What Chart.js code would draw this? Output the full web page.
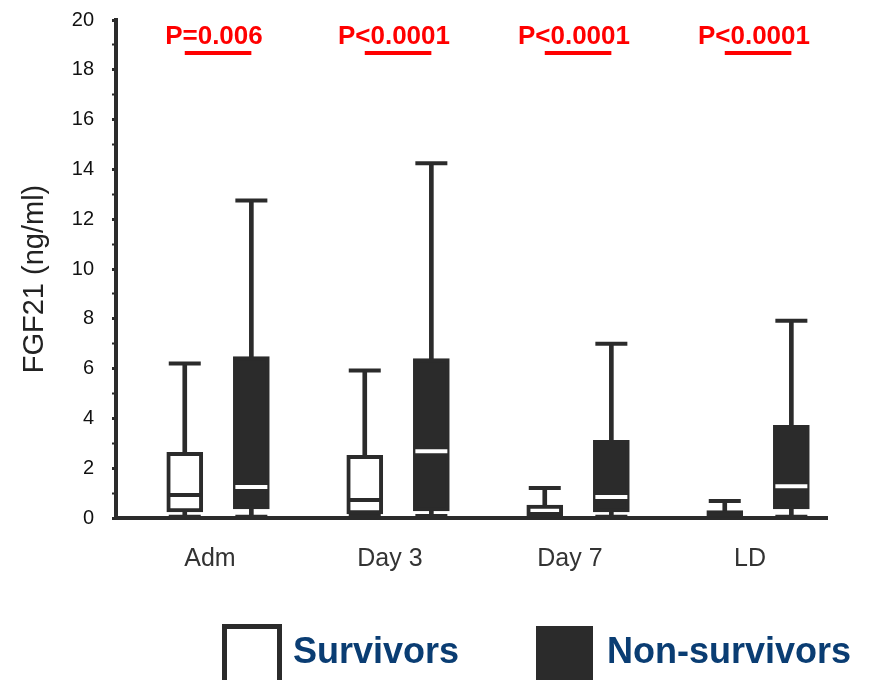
<!DOCTYPE html>
<html>
<head>
<meta charset="utf-8">
<script src="https://cdn.jsdelivr.net/npm/chart.js@4/dist/chart.umd.min.js"></script>
<style>
  body { margin: 0; background: #fff; }
</style>
</head>
<body>
<canvas id="grafica" width="877" height="680"></canvas>
<script>
// data (FGF21, ng/ml)
const categories = ['Adm', 'Day 3', 'Day 7', 'LD'];
const groups = ['Survivors', 'Non-survivors'];
const pValues = ['P=0.006', 'P<0.0001', 'P<0.0001', 'P<0.0001'];

const survMin = [0.05, 0.08, 0.05, 0.05];
const survQ1 = [0.24, 0.16, 0.0, 0.0];
const survMedian = [0.92, 0.72, 0.16, 0.14];
const survQ3 = [2.64, 2.52, 0.52, 0.3];
const survMax = [6.2, 5.92, 1.2, 0.68];

const nonMin = [0.05, 0.08, 0.05, 0.05];
const nonQ1 = [0.36, 0.28, 0.24, 0.36];
const nonMedian = [1.24, 2.68, 0.84, 1.28];
const nonQ3 = [6.48, 6.4, 3.12, 3.72];
const nonMax = [12.75, 14.25, 7.0, 7.92];

const dark = '#2b2b2b';
const fontFam = '"Liberation Sans", Arial, sans-serif';
const SURV_OFF = -0.14;
const NON_OFF = 0.23;

function pts(vals, off) {
    return vals.map(function(v, i){ return {x: i + off, y: v}; });
}
function ranges(lo, hi, off) {
    return lo.map(function(v, i){ return {x: i + off, y: [v, hi[i]]}; });
}

const lineMark = {
    type: 'scatter',
    showLine: false,
    pointStyle: 'line',
    pointRadius: 16,
    pointHoverRadius: 16,
    pointBorderWidth: 4,
    pointHoverBorderWidth: 4
};

const extras = {
    id: 'extras',
    afterDraw(chart) {
        const ctx = chart.ctx;
        const x = chart.scales.x;
        ctx.save();
        // y title
        ctx.save();
        ctx.translate(35, 279);
        ctx.rotate(-Math.PI / 2);
        ctx.font = '29px ' + fontFam;
        ctx.fillStyle = '#222';
        ctx.textAlign = 'center';
        ctx.textBaseline = 'middle';
        ctx.fillText('FGF21 (ng/ml)', 0, 0);
        ctx.restore();

        // p values
        ctx.fillStyle = '#ff0000';
        ctx.strokeStyle = '#ff0000';
        ctx.font = 'bold 26px ' + fontFam;
        ctx.textAlign = 'center';
        ctx.textBaseline = 'middle';
        ctx.lineWidth = 4;
        pValues.forEach(function(p, i){
            ctx.fillText(p, x.getPixelForValue(i) + 4, 37);
            ctx.beginPath();
            ctx.moveTo(x.getPixelForValue(i + SURV_OFF), 53);
            ctx.lineTo(x.getPixelForValue(i + NON_OFF), 53);
            ctx.stroke();
        });

        // legend
        ctx.lineWidth = 5;
        ctx.strokeStyle = dark;
        ctx.fillStyle = '#fff';
        ctx.fillRect(224, 626, 55, 58);
        ctx.strokeRect(224.5, 626.5, 55, 58);
        ctx.fillStyle = dark;
        ctx.fillRect(536, 626, 57, 60);
        ctx.font = 'bold 36px ' + fontFam;
        ctx.fillStyle = '#0a3d73';
        ctx.textAlign = 'left';
        ctx.textBaseline = 'alphabetic';
        ctx.fillText(groups[0], 293, 663);
        ctx.fillText(groups[1], 607, 663);
        ctx.restore();
    }
};

var chart = new Chart(document.getElementById('grafica').getContext('2d'), {
    type: 'bar',
    data: {
        datasets: [
            Object.assign({}, lineMark, {
                label: 'median-s', order: 1,
                data: pts(survMedian, SURV_OFF),
                pointBorderColor: dark, pointBackgroundColor: dark
            }),
            Object.assign({}, lineMark, {
                label: 'median-n', order: 1,
                data: pts(nonMedian, NON_OFF),
                pointBorderColor: '#fff', pointBackgroundColor: '#fff'
            }),
            {
                label: groups[0], order: 3, grouped: false,
                data: ranges(survQ1, survQ3, SURV_OFF),
                barThickness: 36,
                backgroundColor: '#fff',
                borderColor: dark,
                borderWidth: 4,
                borderSkipped: false
            },
            {
                label: groups[1], order: 3, grouped: false,
                data: ranges(nonQ1, nonQ3, NON_OFF),
                barThickness: 36,
                backgroundColor: dark,
                borderColor: dark,
                borderWidth: 4,
                borderSkipped: false
            },
            Object.assign({}, lineMark, {
                label: 'caps', order: 4,
                data: pts(survMax, SURV_OFF).concat(pts(survMin, SURV_OFF), pts(nonMax, NON_OFF), pts(nonMin, NON_OFF)),
                pointBorderColor: dark, pointBackgroundColor: dark
            }),
            {
                label: 'whisker-s', order: 5, grouped: false,
                data: ranges(survMin, survMax, SURV_OFF),
                barThickness: 4,
                backgroundColor: dark
            },
            {
                label: 'whisker-n', order: 5, grouped: false,
                data: ranges(nonMin, nonMax, NON_OFF),
                barThickness: 4,
                backgroundColor: dark
            }
        ]
    },
    options: {
        responsive: false,
        animation: false,
        events: [],
        layout: { padding: { top: 18, right: 50, bottom: 100, left: 0 } },
        plugins: {
            legend: { display: false },
            tooltip: { enabled: false }
        },
        scales: {
            x: {
                type: 'linear',
                offset: false,
                min: -0.522,
                max: 3.428,
                afterBuildTicks: function(scale){
                    scale.ticks = categories.map(function(c, i){ return {value: i}; });
                },
                afterFit: function(scale){ scale.height = 62; },
                grid: { display: false, drawTicks: false, offset: false },
                border: { display: true, color: dark, width: 4 },
                ticks: {
                    padding: 26,
                    color: '#333',
                    font: { family: fontFam, size: 25 },
                    callback: function(v){ return categories[v]; }
                }
            },
            y: {
                min: 0,
                max: 20,
                afterFit: function(scale){
                    scale.width = 116;
                    scale.paddingTop = 0;
                    scale.paddingBottom = 0;
                },
                grid: {
                    drawOnChartArea: false,
                    tickLength: 4,
                    tickColor: dark,
                    tickWidth: function(c){ return c.tick && c.tick.value % 2 === 0 ? 3 : 2; }
                },
                border: { display: true, color: dark, width: 4 },
                ticks: {
                    stepSize: 1,
                    autoSkip: false,
                    padding: 18,
                    color: '#111',
                    font: { family: fontFam, size: 20 },
                    callback: function(v){ return v % 2 === 0 ? v : ''; }
                }
            }
        }
    },
    plugins: [extras]
});
</script>
</body>
</html>
